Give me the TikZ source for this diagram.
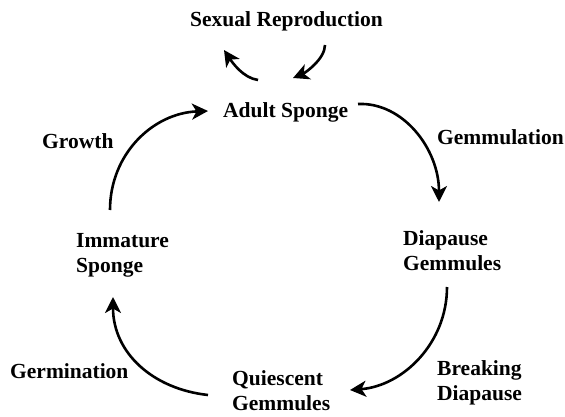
\documentclass[tikz,border=0pt]{standalone}
\usepackage{fontspec}
\setmainfont{Liberation Serif}
\usetikzlibrary{arrows.meta}
\begin{document}
\begin{tikzpicture}[x=1pt,y=-1pt,
  lbl/.style={inner sep=0pt,anchor=base west,align=left,font=\fontsize{21.5}{24.5}\selectfont\bfseries},
  cyc/.style={line width=2.6pt,-{Stealth[length=16pt,width=16pt,inset=4.5pt]}}]
\useasboundingbox (0,0) rectangle (565,417);
\node[lbl] (sex) at (190,27) {Sexual Reproduction};
\node[lbl] (adult) at (223,118) {Adult Sponge};
\node[lbl] (gem) at (437,145) {Gemmulation};
\node[lbl] (diap) at (403,270) {Diapause\\Gemmules};
\node[lbl] (brk) at (437,400) {Breaking\\Diapause};
\node[lbl] (qui) at (232,410) {Quiescent\\Gemmules};
\node[lbl] (germ) at (10,378) {Germination};
\node[lbl] (imm) at (76,272) {Immature\\Sponge};
\node[lbl] (grow) at (42,149) {Growth};
% cycle arrows
\draw[cyc] ([shift={(135,-14)}]adult.base west) .. controls +(45,-2) and +(0,-53) .. ([shift={(36,-68)}]diap.base west);
\draw[cyc] ([shift={(44,17)}]diap.base west) .. controls +(0,56) and +(53,-4) .. ([shift={(118,-20)}]qui.base west);
\draw[cyc] ([shift={(-24,-15)}]qui.base west) .. controls +(-55,-6) and +(0,56) .. ([shift={(37,25)}]imm.base west);
\draw[cyc] ([shift={(34,-62)}]imm.base west) .. controls +(0,-56) and +(-55,2) .. ([shift={(-15,-7)}]adult.base west);
% sexual reproduction arrows
\draw[cyc] ([shift={(35,-38)}]adult.base west) .. controls +(-15,-2) and +(8,12) .. ([shift={(34,23)}]sex.base west);
\draw[cyc] ([shift={(135,18)}]sex.base west) .. controls +(0,14) and +(12,-5) .. ([shift={(70,-40)}]adult.base west);
\end{tikzpicture}
\end{document}
